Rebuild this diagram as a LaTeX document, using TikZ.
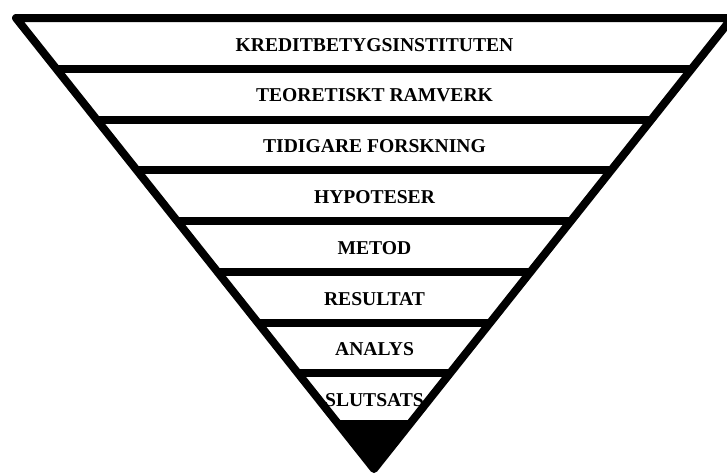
\documentclass[tikz,border=0pt]{standalone}
\usepackage{fontspec}
\setmainfont{Liberation Serif}
\usetikzlibrary{calc}

\begin{document}
\begin{tikzpicture}[
  x=1pt,
  y=-1pt,
  frame/.style={line width=8pt, line join=round, line cap=round},
  divider/.style={line width=8pt},
  label/.style={font=\bfseries\fontsize{19.6}{19.6}\selectfont, inner sep=0pt}
]

  % Page area, the right corner runs off the edge.
  \useasboundingbox (0,0) rectangle (727,475);
  \clip (0,0) rectangle (727,475);

  % Corners of the inverted triangle.
  \coordinate (tl) at (16,18);
  \coordinate (tr) at (732,18);
  \coordinate (apex) at (374,469);

  % Solid tip under the last band.
  \fill ($(tl)!{(8*50.75-4)/451}!(apex)$) -- ($(tr)!{(8*50.75-4)/451}!(apex)$)
    -- (apex) -- cycle;

  % Band dividers.
  \foreach \k in {1,...,7}
    \draw[divider] ($(tl)!{\k*50.75/451}!(apex)$)
      -- ($(tr)!{\k*50.75/451}!(apex)$);

  % Outline.
  \draw[frame] (tl) -- (tr) -- (apex) -- cycle;

  % Band labels.
  \foreach \txt [count=\k] in {KREDITBETYGSINSTITUTEN, TEORETISKT RAMVERK,
      TIDIGARE FORSKNING, HYPOTESER, METOD, RESULTAT, ANALYS, SLUTSATS}
    \node[label] (band\k) at (374.5,{19.5+50.75*(\k-0.5)}) {\txt};

\end{tikzpicture}
\end{document}
